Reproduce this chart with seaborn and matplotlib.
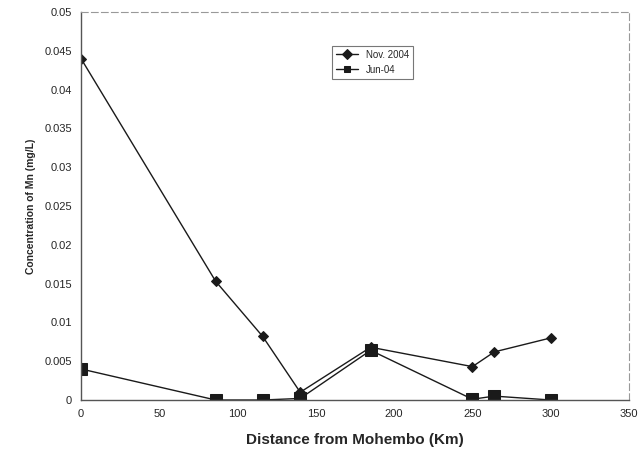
import matplotlib
matplotlib.use("Agg")
import matplotlib.pyplot as plt
import seaborn as sns
import pandas as pd

distance = [0, 86, 116, 140, 185, 250, 264, 300]
nov_2004 = [0.044, 0.0153, 0.0082, 0.0010, 0.0068, 0.0043, 0.0062, 0.0080]
jun_04 = [0.0040, 0.0, 0.0, 0.0002, 0.0064, 0.0001, 0.0005, 0.0]
series_names = ["Nov. 2004", "Jun-04"]
x_ticks = [0, 50, 100, 150, 200, 250, 300, 350]
y_ticks = [0, 0.005, 0.01, 0.015, 0.02, 0.025, 0.03, 0.035, 0.04, 0.045, 0.05]
y_tick_labels = ["0", "0.005", "0.01", "0.015", "0.02", "0.025", "0.03", "0.035", "0.04", "0.045", "0.05"]

df = pd.DataFrame({
    "Distance": distance * 2,
    "Conc": nov_2004 + jun_04,
    "Series": [series_names[0]] * len(distance) + [series_names[1]] * len(distance),
})

sns.set_style("white")
plt.rcParams["font.family"] = ["Liberation Sans", "DejaVu Sans"]

fig = plt.figure(figsize=(6.38, 4.61), dpi=100)
ax = fig.add_axes([81 / 638, 1 - 400 / 461, 548 / 638, 388 / 461])

sns.lineplot(data=df, x="Distance", y="Conc", hue="Series", style="Series",
             palette={series_names[0]: "#1a1a1a", series_names[1]: "#1a1a1a"},
             markers={series_names[0]: "D", series_names[1]: "s"},
             dashes=False, markersize=6, linewidth=1.0, markeredgecolor="#1a1a1a",
             ax=ax, legend=True)
for line, ms in zip(ax.lines, [5, 8]):
    line.set_markersize(ms)

ax.set_xlim(0, 350)
ax.set_ylim(0, 0.05)
ax.set_xticks(x_ticks)
ax.set_xticklabels([str(t) for t in x_ticks], fontsize=8)
ax.set_yticks(y_ticks)
ax.set_yticklabels(y_tick_labels, fontsize=8)
ax.tick_params(axis="both", direction="out", length=3, width=0.8, color="#333333")
ax.set_xlabel("Distance from Mohembo (Km)", fontsize=11, fontweight="bold", labelpad=10)
ax.set_ylabel("Concentration of Mn (mg/L)", fontsize=7.5, fontweight="bold", labelpad=6)

for side in ["left", "bottom"]:
    ax.spines[side].set_color("#555555")
    ax.spines[side].set_linewidth(1.0)
for side in ["top", "right"]:
    ax.spines[side].set_color("#999999")
    ax.spines[side].set_linestyle((0, (6, 3)))
    ax.spines[side].set_linewidth(0.8)

leg = ax.legend(loc="upper left", bbox_to_anchor=(0.45, 0.925), fontsize=7,
                frameon=True, fancybox=False, edgecolor="#555555",
                handlelength=2.2, borderpad=0.4, labelspacing=0.5)
leg.get_frame().set_linewidth(0.8)
for h in leg.legend_handles:
    h.set_markersize(5)

fig.savefig("out.png", dpi=100)
